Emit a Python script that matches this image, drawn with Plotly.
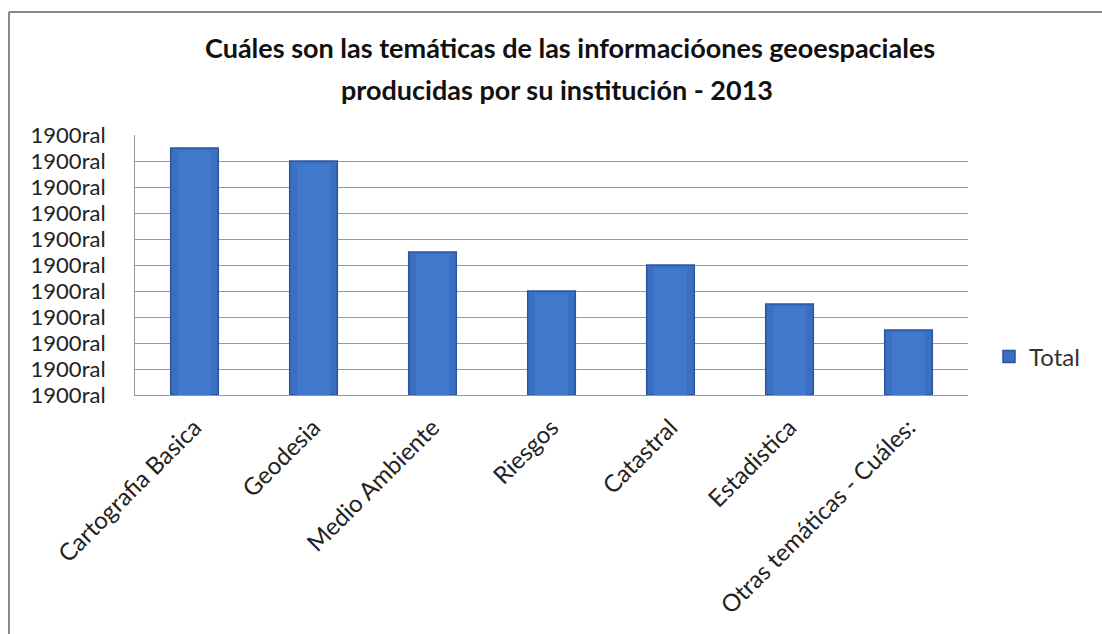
import plotly.graph_objects as go

categories = ["Cartografia Basica", "Geodesia", "Medio Ambiente", "Riesgos",
              "Catastral", "Estadistica", "Otras temáticas - Cuáles:"]
values = [9.5, 9.0, 5.5, 4.0, 5.0, 3.5, 2.5]
tick_vals = [0, 1, 2, 3, 4, 5, 6, 7, 8, 9, 10]
tick_text = ["1900ral"] * len(tick_vals)
series_name = "Total"
title_lines = ["Cuáles son las temáticas de las informacióones geoespaciales",
               "producidas por su institución - 2013"]

W, H = 1102, 634
L, R, T, B = 135, 134, 135, 239
pw, ph = W - L - R, H - T - B

def px_x(x):
    return (x - L) / pw

def px_y(y):
    return (H - B - y) / ph

font = "Lato, 'Open Sans', sans-serif"

fig = go.Figure()
fig.add_trace(go.Bar(
    x=categories, y=values, name=series_name, width=0.4,
    marker=dict(color="#3A6FC2", line=dict(color="#2A559E", width=1.5)),
))
fig.add_trace(go.Bar(
    x=categories, y=[v - 0.1 for v in values], width=0.28,
    marker=dict(color="#4079CC", line=dict(width=0)),
    showlegend=False, hoverinfo="skip",
))

annotations = []
for line, xc, yc in zip(title_lines, [570, 557], [47, 89]):
    annotations.append(dict(
        text=line, xref="paper", yref="paper",
        x=px_x(xc), y=px_y(yc), xanchor="center", yanchor="middle",
        showarrow=False,
        font=dict(family=font, size=27, color="#111", weight="bold"),
    ))

fig.update_layout(
    width=W, height=H,
    margin=dict(l=L, r=R, t=T, b=B),
    paper_bgcolor="white", plot_bgcolor="white",
    barmode="overlay",
    font=dict(family=font, size=22, color="#222"),
    showlegend=True,
    legend=dict(x=px_x(989), y=px_y(357), xanchor="left", yanchor="middle",
                font=dict(size=24, color="#333"), bgcolor="rgba(0,0,0,0)",
                itemwidth=30),
    xaxis=dict(type="category", tickangle=-45, showgrid=False,
               showline=True, linecolor="#999", linewidth=1, ticks="",
               ticklabelstandoff=8,
               tickfont=dict(size=24, color="#222")),
    yaxis=dict(range=[0, 10], tickvals=tick_vals, ticktext=tick_text,
               showgrid=True, gridcolor="#9A9A9A", gridwidth=1,
               showline=True, linecolor="#999", linewidth=1,
               ticks="", zeroline=False, ticklabelstandoff=24,
               tickfont=dict(size=22, color="#222")),
    annotations=annotations,
    shapes=[
        dict(type="line", xref="paper", yref="paper",
             x0=px_x(9), x1=px_x(W + 5), y0=px_y(12), y1=px_y(12),
             line=dict(color="#8A8A8A", width=2)),
        dict(type="line", xref="paper", yref="paper",
             x0=px_x(9), x1=px_x(9), y0=px_y(12), y1=px_y(H + 5),
             line=dict(color="#8A8A8A", width=2)),
    ],
)

fig.write_html("out.html", config={"displayModeBar": False},
               post_script="document.body.style.margin='0';document.body.style.padding='0';")
